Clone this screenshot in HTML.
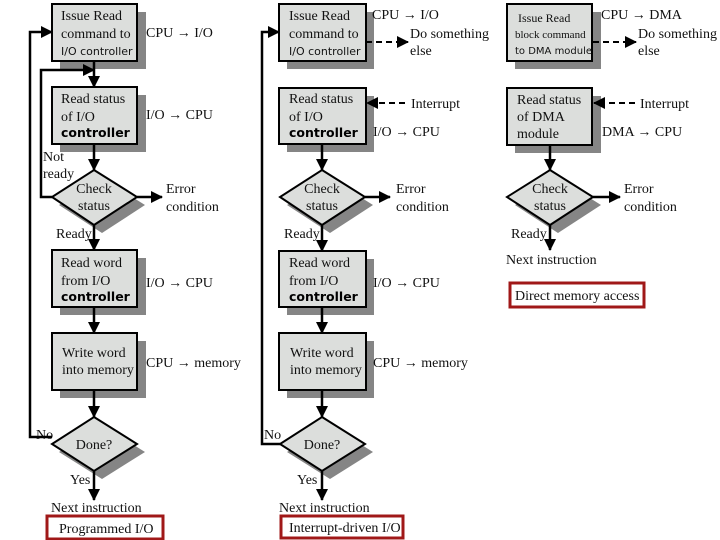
<!DOCTYPE html>
<html><head><meta charset="utf-8"><style>
html,body{margin:0;padding:0;background:#fff;}
svg{display:block;}
.t{font-family:"Liberation Serif",serif;font-size:14px;fill:#111;}
.s{font-family:"DejaVu Sans","Liberation Sans",sans-serif;font-size:11px;fill:#111;}
.b{font-family:"DejaVu Sans","Liberation Sans",sans-serif;font-size:12.5px;font-weight:bold;fill:#000;}
.box{fill:#dcdedc;stroke:#000;stroke-width:2;}
.sh{fill:#858585;}
.ln{stroke:#000;stroke-width:2.5;fill:none;}
.dl{stroke:#000;stroke-width:2;fill:none;stroke-dasharray:6,4;}
.red{fill:#fff;stroke:#a01818;stroke-width:3;}
</style></head><body>
<svg width="720" height="540" viewBox="0 0 720 540" xmlns="http://www.w3.org/2000/svg">
<defs>
<marker id="a" markerWidth="12" markerHeight="12" refX="11" refY="6" orient="auto" markerUnits="userSpaceOnUse">
<path d="M0,0 L12,6 L0,12 Z" fill="#000"/></marker>
</defs>

<!-- ===== Column 1 ===== -->
<g>
<rect class="sh" x="60" y="12" width="86" height="57"/>
<rect class="box" x="52" y="4" width="85" height="57"/>
<text class="t" x="61" y="20">Issue Read</text>
<text class="t" x="61" y="38">command to</text>
<text class="s" x="61" y="55">I/O controller</text>
<text class="t" x="146" y="37">CPU → I/O</text>

<rect class="sh" x="60" y="95" width="86" height="57"/>
<rect class="box" x="52" y="87" width="85" height="57"/>
<text class="t" x="61" y="103">Read status</text>
<text class="t" x="61" y="121">of I/O</text>
<text class="b" x="61" y="137">controller</text>
<text class="t" x="146" y="119">I/O → CPU</text>

<polygon class="sh" points="102,178 145,205 102,233 59,205"/>
<polygon class="box" points="94,170 137,197 94,225 52,197"/>
<text class="t" x="94" y="193" text-anchor="middle">Check</text>
<text class="t" x="94" y="210" text-anchor="middle">status</text>
<text class="t" x="166" y="193">Error</text>
<text class="t" x="166" y="211">condition</text>
<text class="t" x="43" y="161">Not</text>
<text class="t" x="43" y="178">ready</text>
<text class="t" x="56" y="238">Ready</text>

<rect class="sh" x="60" y="258" width="86" height="57"/>
<rect class="box" x="52" y="250" width="85" height="57"/>
<text class="t" x="61" y="267">Read word</text>
<text class="t" x="61" y="285">from I/O</text>
<text class="b" x="61" y="301">controller</text>
<text class="t" x="146" y="287">I/O → CPU</text>

<rect class="sh" x="60" y="341" width="86" height="57"/>
<rect class="box" x="52" y="333" width="85" height="57"/>
<text class="t" x="62" y="357">Write word</text>
<text class="t" x="62" y="374">into memory</text>
<text class="t" x="146" y="367">CPU → memory</text>

<polygon class="sh" points="102,425 145,452 102,479 59,452"/>
<polygon class="box" points="94,417 137,444 94,471 52,444"/>
<text class="t" x="94" y="449" text-anchor="middle">Done?</text>
<text class="t" x="36" y="439">No</text>
<text class="t" x="70" y="484">Yes</text>
<text class="t" x="51" y="512">Next instruction</text>
<rect class="red" x="47" y="516" width="116" height="23"/>
<text class="t" x="59" y="533">Programmed I/O</text>

<line class="ln" x1="94" y1="61" x2="94" y2="87" marker-end="url(#a)"/>
<line class="ln" x1="94" y1="144" x2="94" y2="170" marker-end="url(#a)"/>
<line class="ln" x1="137" y1="197" x2="162" y2="197" marker-end="url(#a)"/>
<polyline class="ln" points="52,197 41,197 41,70 94,70" marker-end="url(#a)"/>
<line class="ln" x1="94" y1="225" x2="94" y2="250" marker-end="url(#a)"/>
<line class="ln" x1="94" y1="307" x2="94" y2="333" marker-end="url(#a)"/>
<line class="ln" x1="94" y1="390" x2="94" y2="417" marker-end="url(#a)"/>
<polyline class="ln" points="52,437 30,437 30,32 52,32" marker-end="url(#a)"/>
<line class="ln" x1="94" y1="471" x2="94" y2="500" marker-end="url(#a)"/>
</g>

<!-- ===== Column 2 ===== -->
<g>
<rect class="sh" x="287" y="12" width="87" height="57"/>
<rect class="box" x="279" y="4" width="87" height="57"/>
<text class="t" x="289" y="20">Issue Read</text>
<text class="t" x="289" y="38">command to</text>
<text class="s" x="289" y="55">I/O controller</text>
<text class="t" x="372" y="19">CPU → I/O</text>
<text class="t" x="410" y="38">Do something</text>
<text class="t" x="410" y="55">else</text>
<line class="dl" x1="366" y1="42" x2="408" y2="42" marker-end="url(#a)"/>

<rect class="sh" x="287" y="96" width="87" height="56"/>
<rect class="box" x="279" y="88" width="87" height="56"/>
<text class="t" x="289" y="103">Read status</text>
<text class="t" x="289" y="121">of I/O</text>
<text class="b" x="289" y="137">controller</text>
<text class="t" x="373" y="136">I/O → CPU</text>
<text class="t" x="411" y="108">Interrupt</text>
<line class="dl" x1="405" y1="103" x2="367" y2="103" marker-end="url(#a)"/>

<polygon class="sh" points="330,178 373,205 330,233 287,205"/>
<polygon class="box" points="322,170 365,197 322,225 280,197"/>
<text class="t" x="322" y="193" text-anchor="middle">Check</text>
<text class="t" x="322" y="210" text-anchor="middle">status</text>
<text class="t" x="396" y="193">Error</text>
<text class="t" x="396" y="211">condition</text>
<text class="t" x="284" y="238">Ready</text>

<rect class="sh" x="287" y="259" width="87" height="56"/>
<rect class="box" x="279" y="251" width="87" height="56"/>
<text class="t" x="289" y="267">Read word</text>
<text class="t" x="289" y="285">from I/O</text>
<text class="b" x="289" y="301">controller</text>
<text class="t" x="373" y="287">I/O → CPU</text>

<rect class="sh" x="287" y="341" width="87" height="57"/>
<rect class="box" x="279" y="333" width="87" height="57"/>
<text class="t" x="290" y="357">Write word</text>
<text class="t" x="290" y="374">into memory</text>
<text class="t" x="373" y="367">CPU → memory</text>

<polygon class="sh" points="330,425 373,452 330,479 287,452"/>
<polygon class="box" points="322,417 365,444 322,471 280,444"/>
<text class="t" x="322" y="449" text-anchor="middle">Done?</text>
<text class="t" x="264" y="439">No</text>
<text class="t" x="297" y="484">Yes</text>
<text class="t" x="279" y="512">Next instruction</text>
<rect class="red" x="281" y="516" width="122" height="22"/>
<text class="t" x="289" y="532">Interrupt-driven I/O</text>

<line class="ln" x1="322" y1="144" x2="322" y2="170" marker-end="url(#a)"/>
<line class="ln" x1="365" y1="197" x2="390" y2="197" marker-end="url(#a)"/>
<line class="ln" x1="322" y1="225" x2="322" y2="251" marker-end="url(#a)"/>
<line class="ln" x1="322" y1="307" x2="322" y2="333" marker-end="url(#a)"/>
<line class="ln" x1="322" y1="390" x2="322" y2="417" marker-end="url(#a)"/>
<polyline class="ln" points="280,444 262,444 262,32 279,32" marker-end="url(#a)"/>
<line class="ln" x1="322" y1="471" x2="322" y2="500" marker-end="url(#a)"/>
</g>

<!-- ===== Column 3 ===== -->
<g>
<rect class="sh" x="515" y="12" width="86" height="57"/>
<rect class="box" x="507" y="4" width="85" height="57"/>
<text class="t" x="518" y="22" style="font-size:12px">Issue Read</text>
<text class="t" x="515" y="38" style="font-size:11px">block command</text>
<text class="s" x="515" y="54" style="font-size:10px">to DMA module</text>
<text class="t" x="601" y="19">CPU → DMA</text>
<text class="t" x="638" y="38">Do something</text>
<text class="t" x="638" y="55">else</text>
<line class="dl" x1="593" y1="42" x2="636" y2="42" marker-end="url(#a)"/>

<rect class="sh" x="515" y="96" width="86" height="57"/>
<rect class="box" x="507" y="88" width="85" height="57"/>
<text class="t" x="517" y="104">Read status</text>
<text class="t" x="517" y="121">of DMA</text>
<text class="t" x="517" y="138">module</text>
<text class="t" x="602" y="136">DMA → CPU</text>
<text class="t" x="640" y="108">Interrupt</text>
<line class="dl" x1="635" y1="103" x2="594" y2="103" marker-end="url(#a)"/>

<polygon class="sh" points="558,178 601,205 558,233 515,205"/>
<polygon class="box" points="550,170 593,197 550,225 507,197"/>
<text class="t" x="550" y="193" text-anchor="middle">Check</text>
<text class="t" x="550" y="210" text-anchor="middle">status</text>
<text class="t" x="624" y="193">Error</text>
<text class="t" x="624" y="211">condition</text>
<text class="t" x="511" y="238">Ready</text>
<text class="t" x="506" y="264">Next instruction</text>
<rect class="red" x="510" y="283" width="134" height="24"/>
<text class="t" x="515" y="300">Direct memory access</text>

<line class="ln" x1="550" y1="145" x2="550" y2="170" marker-end="url(#a)"/>
<line class="ln" x1="593" y1="197" x2="620" y2="197" marker-end="url(#a)"/>
<line class="ln" x1="550" y1="225" x2="550" y2="250" marker-end="url(#a)"/>
</g>
</svg>
</body></html>
